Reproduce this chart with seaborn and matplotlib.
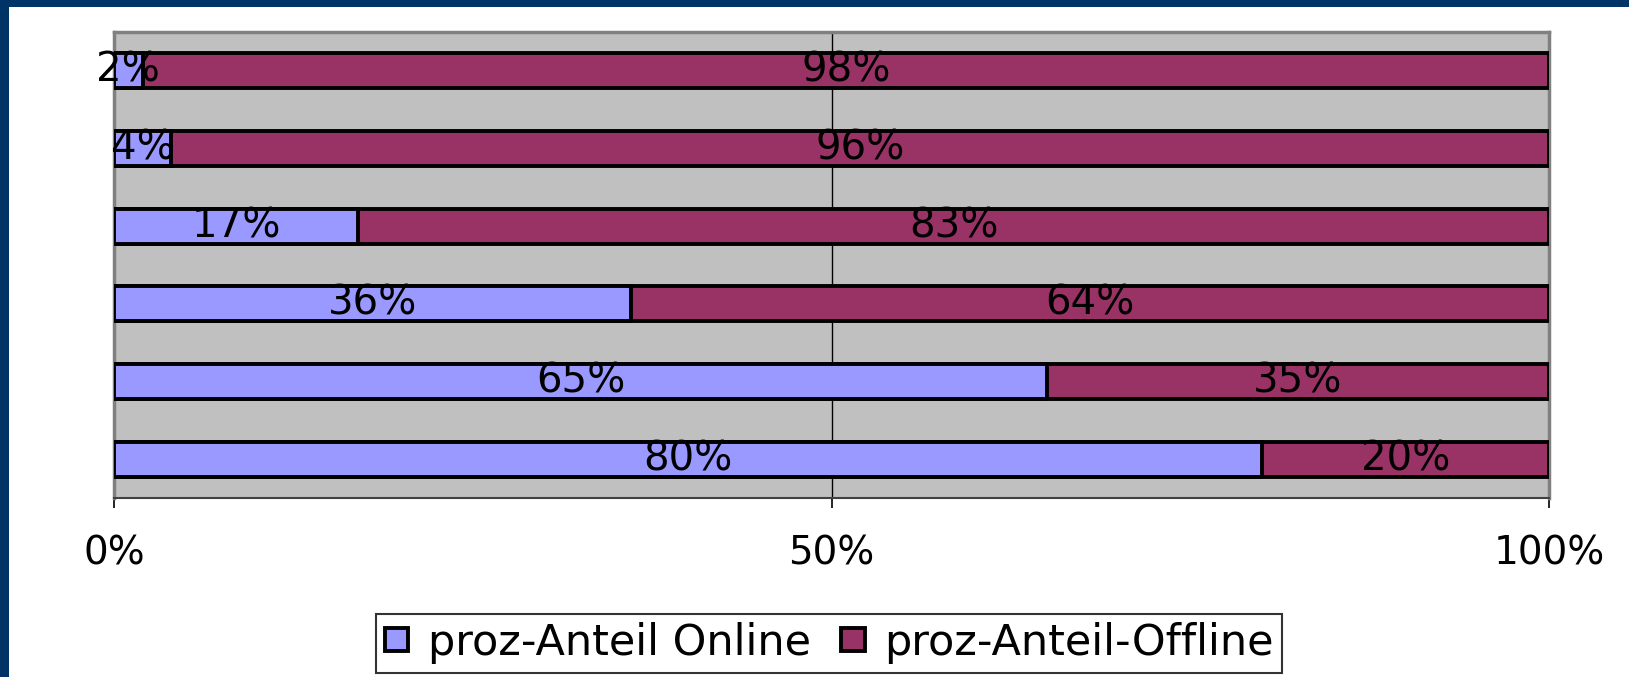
import numpy as np
import pandas as pd
import matplotlib
matplotlib.use("Agg")
import matplotlib.pyplot as plt
import seaborn as sns
from matplotlib.patches import Rectangle, Patch

# Daten (von oben nach unten)
kategorien = ["Gruppe 1", "Gruppe 2", "Gruppe 3", "Gruppe 4", "Gruppe 5", "Gruppe 6"]
anteil_online = [2, 4, 17, 36, 65, 80]
anteil_offline = [98, 96, 83, 64, 35, 20]
x_ticks = [0, 50, 100]
x_ticklabels = ["0%", "50%", "100%"]
serien = ["proz-Anteil Online", "proz-Anteil-Offline"]

farbe_online = "#9999FF"
farbe_offline = "#993366"

df = pd.DataFrame({
    "kategorie": kategorien,
    "online": anteil_online,
    "offline": anteil_offline,
})
df["gesamt"] = df["online"] + df["offline"]

sns.set_theme(style="white")
plt.rcParams["font.family"] = ["DejaVu Sans"]
plt.rcParams["text.color"] = "black"
plt.rcParams["xtick.color"] = "black"

fig = plt.figure(figsize=(16.29, 6.77), dpi=100)
fig.patch.set_facecolor("white")
ax = fig.add_axes([0.070, 0.2644, 0.881, 0.6883])
ax.set_facecolor("#C0C0C0")

# gestapelte Balken: zuerst gesamt (offline-Farbe), dann online darueber
sns.barplot(data=df, y="kategorie", x="gesamt", color=farbe_offline,
            width=0.45, edgecolor="black", linewidth=2.8, saturation=1,
            orient="h", ax=ax, zorder=3)
sns.barplot(data=df, y="kategorie", x="online", color=farbe_online,
            width=0.45, edgecolor="black", linewidth=2.8, saturation=1,
            orient="h", ax=ax, zorder=4)

# Beschriftungen in der Mitte der Segmente
for i, row in df.iterrows():
    ax.text(row["online"] / 2, i, f"{row['online']}%", ha="center", va="center",
            fontsize=29, color="black", zorder=5)
    ax.text(row["online"] + row["offline"] / 2, i, f"{row['offline']}%",
            ha="center", va="center", fontsize=29, color="black", zorder=5)

ax.set_xlim(0, 100)
ax.set_ylim(len(kategorien) - 0.5, -0.5)
ax.set_xticks(x_ticks)
ax.set_xticklabels(x_ticklabels, fontsize=28, color="black")
ax.set_yticks([])
ax.set_xlabel("")
ax.set_ylabel("")
ax.tick_params(axis="x", direction="out", length=7, width=1.2, color="black",
               pad=19, bottom=True)

# Gitterlinie bei 50%
ax.axvline(50, color="black", linewidth=1, zorder=1)

for s in ["left", "top", "right"]:
    ax.spines[s].set_color("#808080")
    ax.spines[s].set_linewidth(2.5)
ax.spines["bottom"].set_color("#404040")
ax.spines["bottom"].set_linewidth(1.5)

# Legende
handles = [Patch(facecolor=farbe_online, edgecolor="black", linewidth=2.8),
           Patch(facecolor=farbe_offline, edgecolor="black", linewidth=2.8)]
leg = fig.legend(handles, serien, loc="center", bbox_to_anchor=(0.509, 0.05),
                 ncol=2, fontsize=31, frameon=True, fancybox=False,
                 edgecolor="black", handlelength=0.55, handleheight=0.45,
                 handletextpad=0.45, columnspacing=0.7, borderpad=0.2,
                 borderaxespad=0, labelcolor="black")
leg.get_frame().set_linewidth(1.5)

# dunkelblauer Rahmen oben und links
fig.patches.append(Rectangle((0, 0), 9 / 1629, 1, transform=fig.transFigure,
                             facecolor="#003366", edgecolor="none", zorder=10))
fig.patches.append(Rectangle((0, 1 - 7 / 677), 1, 7 / 677, transform=fig.transFigure,
                             facecolor="#003366", edgecolor="none", zorder=10))

fig.savefig("out.png", dpi=100)
